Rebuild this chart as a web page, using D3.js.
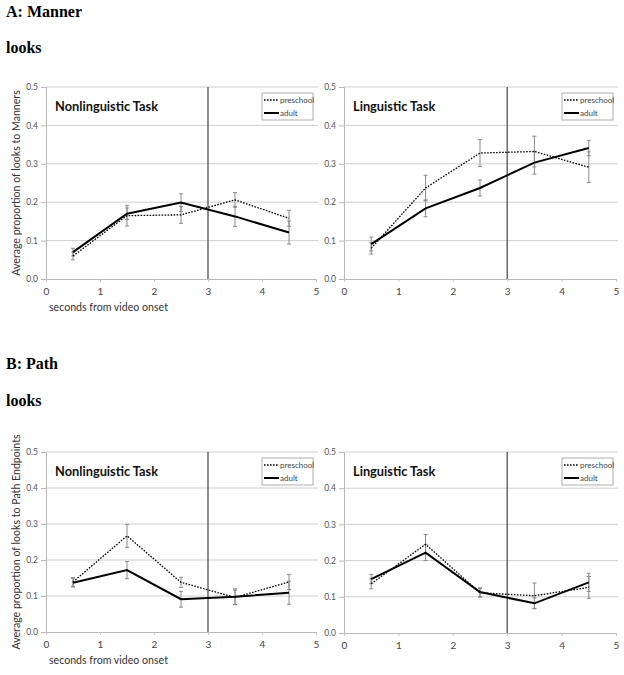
<!DOCTYPE html>
<html><head><meta charset="utf-8">
<script src="https://cdn.jsdelivr.net/npm/d3@7"></script>
<style>body{margin:0;background:#fff}svg{display:block}</style>
</head><body>
<svg id="c" width="624" height="675"></svg>
<script>
// ---- data ----
const times = [0.5, 1.5, 2.5, 3.5, 4.5];
const xTicks = [0, 1, 2, 3, 4, 5];
const yTicks = [0.0, 0.1, 0.2, 0.3, 0.4, 0.5];
const seriesNames = ["preschool", "adult"];

const mannerNonPre = [0.060, 0.165, 0.167, 0.206, 0.158];
const mannerNonPreErr = [0.010, 0.027, 0.022, 0.019, 0.021];
const mannerNonAdu = [0.070, 0.170, 0.199, 0.163, 0.121];
const mannerNonAduErr = [0.010, 0.015, 0.023, 0.026, 0.030];

const mannerLingPre = [0.080, 0.237, 0.328, 0.332, 0.291];
const mannerLingPreErr = [0.015, 0.033, 0.035, 0.040, 0.040];
const mannerLingAdu = [0.091, 0.184, 0.237, 0.303, 0.341];
const mannerLingAduErr = [0.018, 0.022, 0.021, 0.030, 0.020];

const pathNonPre = [0.139, 0.267, 0.138, 0.096, 0.139];
const pathNonPreErr = [0.012, 0.032, 0.014, 0.020, 0.021];
const pathNonAdu = [0.137, 0.172, 0.091, 0.098, 0.109];
const pathNonAduErr = [0.012, 0.024, 0.022, 0.022, 0.032];

const pathLingPre = [0.136, 0.245, 0.111, 0.103, 0.126];
const pathLingPreErr = [0.014, 0.027, 0.012, 0.035, 0.030];
const pathLingAdu = [0.149, 0.222, 0.113, 0.082, 0.140];
const pathLingAduErr = [0.013, 0.022, 0.012, 0.015, 0.025];

const svg = d3.select("#c");
const font = "Lato, 'Liberation Sans', sans-serif";

// headings
const headings = [
  {t: "A: Manner", y: 17}, {t: "looks", y: 53},
  {t: "B: Path", y: 369}, {t: "looks", y: 406}
];
svg.selectAll("text.h").data(headings).join("text").attr("class","h")
  .attr("x", 6).attr("y", d => d.y).text(d => d.t)
  .attr("font-family", "'Liberation Serif', 'Times New Roman', serif")
  .attr("font-weight", "bold").attr("font-size", 16).attr("fill", "#000");

function panel(cfg) {
  const x = d3.scaleLinear().domain([0, 5]).range([cfg.x0, cfg.x1]);
  const y = d3.scaleLinear().domain([0, 0.5]).range([cfg.y0, cfg.y1]);
  const g = svg.append("g");

  // gridlines
  g.selectAll("line.grid").data(yTicks.slice(1)).join("line")
    .attr("x1", cfg.x0).attr("x2", cfg.x1 + 2)
    .attr("y1", d => y(d)).attr("y2", d => y(d))
    .attr("stroke", "#cfcfcf").attr("stroke-width", 1);

  // y axis
  const ya = g.append("g").attr("transform", `translate(${cfg.x0},0)`)
    .call(d3.axisLeft(y).tickValues(yTicks).tickFormat(d3.format(".1f")).tickSize(5).tickPadding(3));
  ya.select(".domain").attr("stroke", "#b8b8b8");
  ya.selectAll(".tick line").attr("stroke", "#b8b8b8");
  ya.selectAll("text").attr("font-family", font).attr("font-size", 8.5).attr("fill", "#555");

  // x axis
  const xa = g.append("g").attr("transform", `translate(0,${cfg.y0})`)
    .call(d3.axisBottom(x).tickValues(xTicks).tickFormat(d3.format("d")).tickSize(3).tickPadding(6));
  xa.select(".domain").attr("stroke", "#b8b8b8");
  xa.selectAll(".tick line").attr("stroke", "#c8c8c8");
  xa.selectAll("text").attr("font-family", font).attr("font-size", 10).attr("fill", "#444");

  // vertical line at 3
  g.append("line").attr("x1", x(3)).attr("x2", x(3)).attr("y1", y(0.5)).attr("y2", y(0))
    .attr("stroke", "#444").attr("stroke-width", 1.2);

  // error bars
  const series = [
    {vals: cfg.pre, err: cfg.preErr, dash: "1.6,1.4", w: 1.3},
    {vals: cfg.adu, err: cfg.aduErr, dash: null, w: 2}
  ];
  series.forEach(s => {
    const pts = times.map((t, i) => ({t, v: s.vals[i], e: s.err[i]}));
    const eb = g.append("g").attr("stroke", "#8a8a8a").attr("stroke-width", 1);
    eb.selectAll("line.v").data(pts).join("line")
      .attr("x1", d => x(d.t)).attr("x2", d => x(d.t))
      .attr("y1", d => y(d.v - d.e)).attr("y2", d => y(d.v + d.e));
    eb.selectAll("line.cl").data(pts).join("line")
      .attr("x1", d => x(d.t) - 2).attr("x2", d => x(d.t) + 2)
      .attr("y1", d => y(d.v - d.e)).attr("y2", d => y(d.v - d.e));
    eb.selectAll("line.ch").data(pts).join("line")
      .attr("x1", d => x(d.t) - 2).attr("x2", d => x(d.t) + 2)
      .attr("y1", d => y(d.v + d.e)).attr("y2", d => y(d.v + d.e));
  });
  series.forEach(s => {
    const line = d3.line().x((d, i) => x(times[i])).y(d => y(d));
    g.append("path").datum(s.vals).attr("d", line).attr("fill", "none")
      .attr("stroke", "#000").attr("stroke-width", s.w)
      .attr("stroke-dasharray", s.dash);
  });

  // panel title
  g.append("text").attr("x", cfg.x0 + cfg.titleDx).attr("y", y(0.5) + 24)
    .text(cfg.title).attr("font-family", font).attr("font-weight", "bold")
    .attr("font-size", 12.8).attr("fill", "#111");

  // legend
  const lx = cfg.x1 - 54, ly = y(0.5) + 6;
  g.append("rect").attr("x", lx).attr("y", ly).attr("width", 51).attr("height", 27)
    .attr("fill", "#fff").attr("stroke", "#999").attr("stroke-width", 0.8);
  series.forEach((s, i) => {
    const yy = ly + 7 + i * 13;
    g.append("line").attr("x1", lx + 2).attr("x2", lx + 17).attr("y1", yy).attr("y2", yy)
      .attr("stroke", "#000").attr("stroke-width", s.w).attr("stroke-dasharray", s.dash);
    g.append("text").attr("x", lx + 18).attr("y", yy + 3).text(seriesNames[i])
      .attr("font-family", font).attr("font-size", 8).attr("fill", "#444");
  });

  // axis titles
  if (cfg.ytitle) {
    g.append("text").attr("transform", `translate(20,${(cfg.y0 + cfg.y1) / 2}) rotate(-90)`)
      .attr("text-anchor", "middle").text(cfg.ytitle)
      .attr("font-family", font).attr("font-size", 10.6).attr("fill", "#333");
  }
  if (cfg.xtitle) {
    g.append("text").attr("x", cfg.x0 + 3).attr("y", cfg.y0 + 32).text(cfg.xtitle)
      .attr("font-family", font).attr("font-size", 10.6).attr("fill", "#333");
  }
}

panel({x0: 46, x1: 316, y0: 279, y1: 87, pre: mannerNonPre, preErr: mannerNonPreErr,
  adu: mannerNonAdu, aduErr: mannerNonAduErr, title: "Nonlinguistic Task", titleDx: 9,
  ytitle: "Average proportion of looks to Manners", xtitle: "seconds from video onset"});
panel({x0: 344, x1: 616, y0: 279, y1: 87, pre: mannerLingPre, preErr: mannerLingPreErr,
  adu: mannerLingAdu, aduErr: mannerLingAduErr, title: "Linguistic Task", titleDx: 9});
panel({x0: 46, x1: 316, y0: 632, y1: 452, pre: pathNonPre, preErr: pathNonPreErr,
  adu: pathNonAdu, aduErr: pathNonAduErr, title: "Nonlinguistic Task", titleDx: 9,
  ytitle: "Average proportion of looks to Path Endpoints", xtitle: "seconds from video onset"});
panel({x0: 344, x1: 616, y0: 633, y1: 452, pre: pathLingPre, preErr: pathLingPreErr,
  adu: pathLingAdu, aduErr: pathLingAduErr, title: "Linguistic Task", titleDx: 9});
</script>
</body></html>
